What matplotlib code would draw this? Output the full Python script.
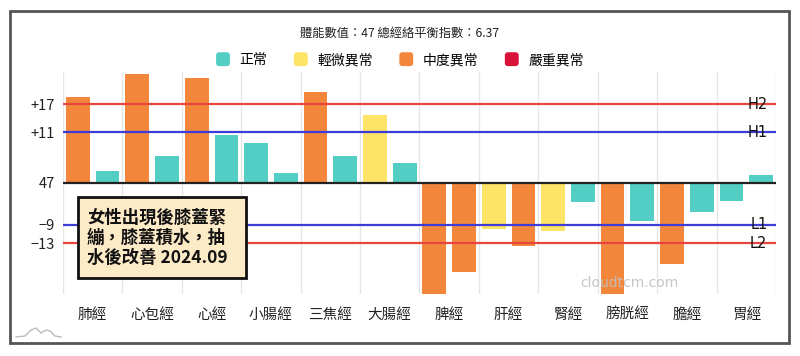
import matplotlib
matplotlib.use("Agg")
import matplotlib.pyplot as plt
from matplotlib.patches import Patch, Rectangle, FancyBboxPatch
from matplotlib.legend_handler import HandlerPatch
from matplotlib.lines import Line2D
import numpy as np

plt.rcParams['font.family'] = ['Noto Sans CJK TC', 'DejaVu Sans']

# meridians, left/right readings relative to baseline 47
MERIDIANS = ["肺經", "心包經", "心經", "小腸經", "三焦經", "大腸經",
             "脾經", "肝經", "腎經", "膀胱經", "膽經", "胃經"]
LEFT_VALS = [18.7, 23.6, 22.8, 8.6, 19.6, 14.8,
             -25.0, -10.0, -10.3, -25.0, -17.5, -3.9]
RIGHT_VALS = [2.6, 5.8, 10.3, 2.1, 5.8, 4.3,
              -19.3, -13.7, -4.1, -8.3, -6.3, 1.7]
# 0 = 正常, 1 = 輕微異常, 2 = 中度異常, 3 = 嚴重異常
LEFT_LEVEL = [2, 2, 2, 0, 2, 1, 2, 1, 1, 2, 2, 0]
RIGHT_LEVEL = [0, 0, 0, 0, 0, 0, 2, 2, 0, 0, 0, 0]

LEVEL_NAMES = ["正常", "輕微異常", "中度異常", "嚴重異常"]
LEVEL_COLORS = ["#52cec4", "#fde466", "#f2873c", "#d9123a"]

YTICKS = [17, 11, 0, -9, -13]
YTICK_LABELS = ["+17", "+11", "47", "\u22129", "\u221213"]
REF_LINES = [(17, "H2", "#e8453f"), (11, "H1", "#3c3cd6"),
             (-9, "L1", "#3c3cd6"), (-13, "L2", "#e8453f")]

TITLE = "體能數值：47 總經絡平衡指數：6.37"
NOTE = "女性出現後膝蓋緊\n繃，膝蓋積水，抽\n水後改善 2024.09"


class RoundSquare(HandlerPatch):
    def create_artists(self, legend, orig_handle, xdescent, ydescent,
                       width, height, fontsize, trans):
        s = max(width, height)
        p = FancyBboxPatch((-xdescent + (width - s) / 2, -ydescent + (height - s) / 2),
                           s, s, boxstyle="round,pad=0,rounding_size=%.2f" % (s * 0.22),
                           facecolor=orig_handle.get_facecolor(), edgecolor="none",
                           transform=trans)
        return [p]


fig = plt.figure(figsize=(8, 3.56), dpi=100)
ax = fig.add_axes([63 / 800, 1 - 294 / 356, 713 / 800, 222 / 356])

x = np.arange(len(MERIDIANS))
w = 0.4
ax.bar(x - 0.25, LEFT_VALS, w, color=[LEVEL_COLORS[l] for l in LEFT_LEVEL], zorder=2)
ax.bar(x + 0.25, RIGHT_VALS, w, color=[LEVEL_COLORS[l] for l in RIGHT_LEVEL], zorder=2)

for b in np.arange(len(MERIDIANS) + 1) - 0.5:
    ax.axvline(b, color="#e6e6e6", lw=1, zorder=1)

for yv, name, col in REF_LINES:
    ax.axhline(yv, color=col, lw=1.6, zorder=3)
    ax.text(0.988, yv, name, transform=ax.get_yaxis_transform(),
            ha="right", va="center", fontsize=10.5, color="#111", zorder=4,
            family=["DejaVu Sans"])
ax.axhline(0, color="#222", lw=1.6, zorder=3)

ax.set_xlim(-0.5, len(MERIDIANS) - 0.5)
ax.set_ylim(-24, 24)
ax.set_xticks(x)
ax.set_xticklabels(MERIDIANS, fontsize=10.5, color="#222")
ax.set_yticks(YTICKS)
ax.set_yticklabels(YTICK_LABELS, fontsize=10.5, color="#222")
ax.tick_params(axis="both", length=0)
ax.tick_params(axis="x", pad=10)
ax.tick_params(axis="y", pad=6)
for s in ax.spines.values():
    s.set_visible(False)

ax.text(0.795, -21.7, "cloudtcm.com", transform=ax.get_yaxis_transform(),
        ha="center", va="center", fontsize=10, color="#c0c0c0", alpha=0.9,
        zorder=5, family=["DejaVu Sans"])

fig.text(0.5, 1 - 33 / 356, TITLE, ha="center", va="center", fontsize=8.8, color="#222")

handles = [Patch(facecolor=c, edgecolor=c) for c in LEVEL_COLORS]
fig.legend(handles, LEVEL_NAMES, loc="center", bbox_to_anchor=(0.5, 1 - 60 / 356),
           ncol=4, frameon=False, fontsize=10, handlelength=1.0, handleheight=0.8,
           handletextpad=0.7, columnspacing=1.9,
           handler_map={Patch: RoundSquare()})

# note box
fig.patches.append(Rectangle((78 / 800, 1 - 278 / 356), 168 / 800, 81 / 356,
                             transform=fig.transFigure, facecolor="#fdebc7",
                             edgecolor="#111", lw=2, zorder=6))
fig.text(87 / 800, 1 - 238 / 356, NOTE, ha="left", va="center", fontsize=12.5,
         fontweight="bold", linespacing=1.15, color="#111", zorder=7)

# outer frame and small logo
fig.patches.append(Rectangle((10 / 800, 1 - 343 / 356), 779 / 800, 332 / 356,
                             transform=fig.transFigure, facecolor="none",
                             edgecolor="#555", lw=2))
lx = np.array([16, 25, 31, 36, 41, 46, 50, 55, 61]) / 800
ly = 1 - np.array([337, 336, 330, 328, 333, 330, 331, 336, 337]) / 356
fig.add_artist(Line2D(lx, ly, color="#bbbbbb", lw=1, transform=fig.transFigure))

fig.savefig("out.png", dpi=100)
